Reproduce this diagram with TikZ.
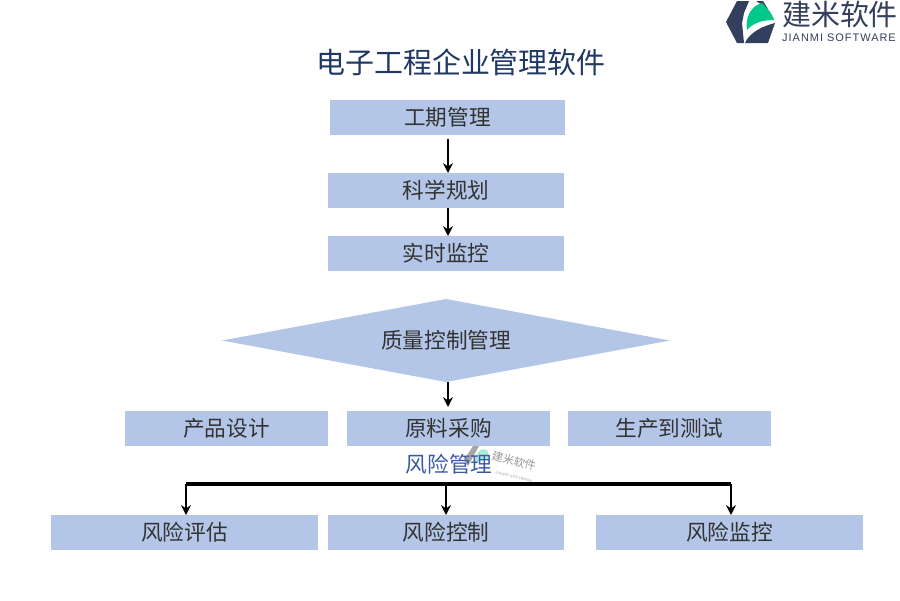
\documentclass[tikz,border=0pt]{standalone}
\usepackage{fontspec}
\setmainfont{Noto Sans CJK SC}
\newfontfamily\latinfont[LetterSpace=9]{Liberation Sans}
\usepackage{tikz}
\usetikzlibrary{positioning, arrows.meta, shapes, calc}
\usepackage{xcolor}
\definecolor{boxblue}{HTML}{B4C6E7}
\definecolor{titleblue}{HTML}{1F3864}
\definecolor{riskblue}{HTML}{3B5AA5}
\definecolor{logodark}{HTML}{333F5C}
\definecolor{logogreen}{HTML}{00C88A}
\tikzset{
  boxnode/.style={fill=boxblue, inner sep=0pt, font=\fontsize{15.4}{18}\selectfont, text=black!80},
  flowarrow/.style={line width=1.7pt, -{Stealth[length=7pt,width=7pt]}},
}
\begin{document}
\begin{tikzpicture}[x=0.025cm, y=-0.025cm]
\useasboundingbox (0,0) rectangle (900,600);
% title
\node[font=\fontsize{20.6}{24}\selectfont, text=titleblue] (title) at (461,62) {电子工程企业管理软件};
% top column
\node[boxnode, minimum width=5.875cm, minimum height=0.875cm] (gongqi) at (447.5,117.5) {工期管理};
\node[boxnode, minimum width=5.9cm, minimum height=0.875cm] (kexue) at (446,190.5) {科学规划};
\node[boxnode, minimum width=5.9cm, minimum height=0.875cm] (shishi) at (446,253.5) {实时监控};
\fill[boxblue] (222,340.5) -- (446,299) -- (670,340.5) -- (446,382) -- cycle;
\node[font=\fontsize{15.4}{18}\selectfont, text=black!80] (zhiliang) at (446,340.5) {质量控制管理};
\coordinate (zhiliangbot) at (448,382);
% middle row
\node[boxnode, minimum width=5.075cm, minimum height=0.875cm] (chanpin) at (226.5,428.5) {产品设计};
\node[boxnode, minimum width=5.075cm, minimum height=0.875cm] (yuanliao) at (448.5,428.5) {原料采购};
\node[boxnode, minimum width=5.075cm, minimum height=0.875cm] (shengchan) at (669.5,428.5) {生产到测试};
% watermark
\node[font=\fontsize{8}{9}\selectfont, text=black!40, rotate=-14, inner sep=0pt] (wmark) at (514,461) {建米软件};
\node[font=\latinfont\fontsize{2.6}{3}\selectfont, text=black!40, rotate=-14, inner sep=0pt] (wmarksub) at (514,477) {JIANMI SOFTWARE};
\fill[black!35] (473,446) -- (479,446) -- (468,466) -- (464,460) -- cycle;
\fill[logogreen!35] (476,464) .. controls (474,452) and (482,447) .. (487,450) .. controls (490,454) and (488,458) .. (487,460) .. controls (481,459) and (478,461) .. (476,464) -- cycle;
\node[font=\fontsize{15.4}{18}\selectfont, text=riskblue] (fengxian) at (449,464) {风险管理};
% bottom row
\node[boxnode, minimum width=6.675cm, minimum height=0.875cm] (pinggu) at (184.5,532.5) {风险评估};
\node[boxnode, minimum width=5.9cm, minimum height=0.875cm] (kongzhi) at (446,532.5) {风险控制};
\node[boxnode, minimum width=6.675cm, minimum height=0.875cm] (jiankong) at (729.5,532.5) {风险监控};
% arrows
\coordinate (gongqibot) at (448,139);
\draw[flowarrow] (gongqibot) -- (448,173);
\draw[flowarrow] (448,208) -- (448,236);
\draw[flowarrow] (zhiliangbot) -- (448,407);
\coordinate (busleft) at (186,484);
\coordinate (busmid) at (446,484);
\coordinate (busright) at (731,484);
\draw[line width=2.2pt] (busleft) -- (busright);
\draw[flowarrow] (busleft) -- (186,515);
\draw[flowarrow] (busmid) -- (446,515);
\draw[flowarrow] (busright) -- (731,515);
% logo
\fill[logodark] (737,1) -- (749,1) -- (744,13) -- (742,23) -- (743,33) -- (744,43) -- (737,43) -- (726,22) -- cycle;
\fill[logodark] (745,43) .. controls (748,36) and (756,28) .. (775,23) -- (768,43) -- cycle;
\fill[logodark] (756,1) -- (763,1) -- (775,20) -- (768,9) -- cycle;
\fill[logogreen] (747,30) .. controls (745,17) and (751,6) .. (762,3) .. controls (768,9) and (772,14) .. (774,20) .. controls (762,20) and (753,23) .. (747,30) -- cycle;
\node[font=\fontsize{20.6}{24}\selectfont, text=logodark] (logotext) at (840,14) {建米软件};
\node[font=\latinfont\fontsize{7.8}{9}\selectfont, text=logodark] (logosub) at (839,38) {JIANMI SOFTWARE};
\end{tikzpicture}
\end{document}
